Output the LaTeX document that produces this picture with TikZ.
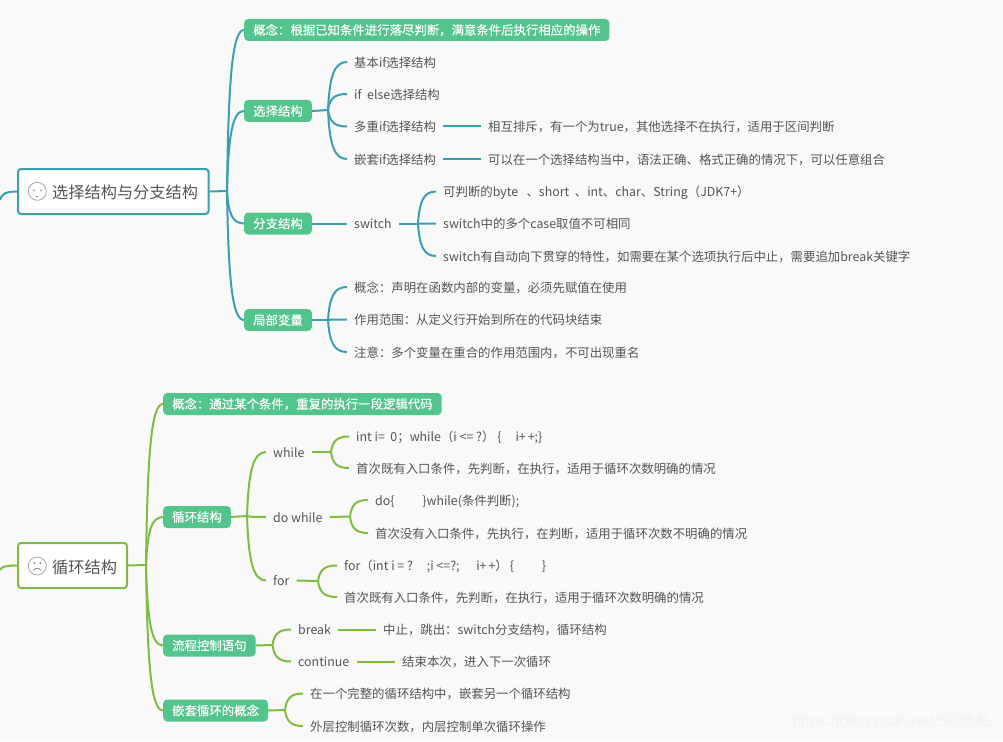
\documentclass[tikz,border=0pt]{standalone}
\usepackage{fontspec}
\setmainfont{Noto Sans CJK SC}
\newfontfamily\tagfont[FakeBold=0.25]{Noto Sans CJK SC}
\newfontfamily\markfont{Liberation Sans}
\usetikzlibrary{calc}
\definecolor{tealln}{HTML}{3BA0AE}
\definecolor{greenln}{HTML}{7FBD42}
\definecolor{tagfill}{HTML}{52C48C}
\definecolor{txtc}{HTML}{555555}
\definecolor{pagebg}{HTML}{F9F9F9}
\begin{document}
\begin{tikzpicture}[
  x=1pt, y=-1pt,
  root/.style={draw, rounded corners=3pt, line width=2pt, fill=white, minimum height=45pt, inner sep=0pt, anchor=west},
  roottxt/.style={text=txtc, font=\fontsize{16.2}{18}\selectfont, anchor=west, inner sep=0pt},
  tag/.style={fill=tagfill, rounded corners=4pt, text=white, font=\fontsize{12.4}{14}\tagfont, minimum height=22pt, inner xsep=9pt, inner ysep=0pt, anchor=west},
  leaf/.style={text=txtc, font=\fontsize{12.4}{14}\selectfont, inner xsep=7pt, inner ysep=1pt, text height=12pt, text depth=1.5pt, anchor=west},
  face/.style={draw=gray!70, circle, line width=0.8pt, minimum size=18pt, inner sep=0pt},
  lnk/.style={line width=2pt},
  tl/.style={lnk, tealln},
  gl/.style={lnk, greenln},
  curv/.style={to path={.. controls ($(\tikztostart)!0.7!($(\tikztostart |- \tikztotarget)!0.12!(\tikztotarget)$)$) and ($(\tikztostart |- \tikztotarget)!0.32!(\tikztotarget)$) .. (\tikztotarget)}}
]
\useasboundingbox[fill=pagebg] (0,0) rectangle (1003,741);
% upper map: root and first level
\node[root, draw=tealln, minimum width=190.5pt] (rootA) at (17,191.5) {};
\node[roottxt] (rootAt) at (52,192) {选择结构与分支结构};
\node[face] (faceA) at (37.3,191.3) {};
\node[tag] (concA) at (244,30) {概念：根据已知条件进行落尽判断，满意条件后执行相应的操作};
\node[tag] (sel) at (244,111) {选择结构};
\node[tag] (sw) at (244,223.5) {分支结构};
\node[tag] (var) at (244,320) {局部变量};
\coordinate (inA) at (0,200);
\coordinate (forkA) at (227,191);
% upper map: leaves
\node[leaf] (s1) at (347,62) {基本if选择结构};
\node[leaf] (s2) at (347,94) {if~~else选择结构};
\node[leaf] (s3) at (347,126.5) {多重if选择结构};
\node[leaf] (s4) at (347,159) {嵌套if选择结构};
\node[leaf] (s3a) at (481,126.5) {相互排斥，有一个为true，其他选择不在执行，适用于区间判断};
\node[leaf] (s4a) at (481,159) {可以在一个选择结构当中，语法正确、格式正确的情况下，可以任意组合};
\node[leaf] (swn) at (347,223.5) {switch};
\node[leaf] (w1) at (436,191.5) {可判断的byte~~~、short~~、int、char、String（JDK7+）};
\node[leaf] (w2) at (436,223.5) {switch中的多个case取值不可相同};
\node[leaf] (w3) at (436,256) {switch有自动向下贯穿的特性，如需要在某个选项执行后中止，需要追加break关键字};
\node[leaf] (v1) at (347,287) {概念：声明在函数内部的变量，必须先赋值在使用};
\node[leaf] (v2) at (347,319.5) {作用范围：从定义行开始到所在的代码块结束};
\node[leaf] (v3) at (347,352) {注意：多个变量在重合的作用范围内，不可出现重名};
\coordinate (forkS) at (328,110);
\coordinate (forkW) at (418,223.5);
\coordinate (forkV) at (328,320);
% upper map: links
\draw[tl] (inA) to[curv] (rootA.west);
\draw[tl] (rootA.east) -- (forkA);
\foreach \n in {concA,sel,sw,var} \draw[tl] (forkA) to[curv] (\n.west);
\draw[tl] (sel.east) -- (forkS);
\foreach \n in {s1,s2,s3,s4} \draw[tl] (forkS) to[curv] (\n.west);
\draw[tl] (s3.east) -- (s3a.west);
\draw[tl] (s4.east) -- (s4a.west);
\draw[tl] (sw.east) -- (swn.west);
\draw[tl] (swn.east) -- (forkW);
\foreach \n in {w1,w2,w3} \draw[tl] (forkW) to[curv] (\n.west);
\draw[tl] (var.east) -- (forkV);
\foreach \n in {v1,v2,v3} \draw[tl] (forkV) to[curv] (\n.west);
% lower map: root and first level
\node[root, draw=greenln, minimum width=109pt] (rootB) at (17,565.5) {};
\node[roottxt] (rootBt) at (52,567) {循环结构};
\node[face] (faceB) at (37.3,566) {};
\node[tag] (concB) at (163,404) {概念：通过某个条件，重复的执行一段逻辑代码};
\node[tag] (loop) at (163,517) {循环结构};
\node[tag] (flow) at (163,645.5) {流程控制语句};
\node[tag] (nest) at (163,710.5) {嵌套循环的概念};
\coordinate (inB) at (0,570);
\coordinate (forkB) at (146,565);
% lower map: leaves
\node[leaf] (wh) at (266,452) {while};
\node[leaf] (dw) at (266,517) {do while};
\node[leaf] (fr) at (266,580.5) {for};
\node[leaf] (wh1) at (349,436.5) {int i=~~0；while（i <= ?）\hspace{3pt}\{~~~~~i+\hspace{2pt}+;\}};
\node[leaf] (wh2) at (349,468) {首次既有入口条件，先判断，在执行，适用于循环次数明确的情况};
\node[leaf] (dw1) at (368,500) {do\{~~~~~~~~~~\}while(条件判断);};
\node[leaf] (dw2) at (368,533) {首次没有入口条件，先执行，在判断，适用于循环次数不明确的情况};
\node[leaf] (fr1) at (337,565.5) {for（int i = ?~~~~~;i <=?;~~~~~~i+\hspace{2pt}+）\hspace{2pt}\{~~~~~~~~~~\}};
\node[leaf] (fr2) at (337,597) {首次既有入口条件，先判断，在执行，适用于循环次数明确的情况};
\node[leaf] (br) at (291,629.5) {break};
\node[leaf] (ct) at (291,661.5) {continue};
\node[leaf] (br1) at (376,629.5) {中止，跳出：switch分支结构，循环结构};
\node[leaf] (ct1) at (395,661.5) {结束本次，进入下一次循环};
\node[leaf] (n1) at (303,693.5) {在一个完整的循环结构中，嵌套另一个循环结构};
\node[leaf] (n2) at (303,726) {外层控制循环次数，内层控制单次循环操作};
\coordinate (forkL) at (247,516);
\coordinate (forkH) at (331,452);
\coordinate (forkD) at (350,516.5);
\coordinate (forkR) at (318,581);
\coordinate (forkF) at (272.5,645);
\coordinate (forkN) at (285,710);
% lower map: links
\draw[gl] (inB) to[curv] (rootB.west);
\draw[gl] (rootB.east) -- (forkB);
\foreach \n in {concB,loop,flow,nest} \draw[gl] (forkB) to[curv] (\n.west);
\draw[gl] (loop.east) -- (forkL);
\foreach \n in {wh,dw,fr} \draw[gl] (forkL) to[curv] (\n.west);
\draw[gl] (wh.east) -- (forkH);
\foreach \n in {wh1,wh2} \draw[gl] (forkH) to[curv] (\n.west);
\draw[gl] (dw.east) -- (forkD);
\foreach \n in {dw1,dw2} \draw[gl] (forkD) to[curv] (\n.west);
\draw[gl] (fr.east) -- (forkR);
\foreach \n in {fr1,fr2} \draw[gl] (forkR) to[curv] (\n.west);
\draw[gl] (flow.east) -- (forkF);
\foreach \n in {br,ct} \draw[gl] (forkF) to[curv] (\n.west);
\draw[gl] (br.east) -- (br1.west);
\draw[gl] (ct.east) -- (ct1.west);
\draw[gl] (nest.east) -- (forkN);
\foreach \n in {n1,n2} \draw[gl] (forkN) to[curv] (\n.west);
% faces
\fill[gray] (34,190.5) circle (0.8pt) (41,190.5) circle (0.8pt);
\draw[gray, line width=0.7pt] (36.3,196) -- (38.3,196);
\fill[gray] (34.3,563) circle (1pt) (40.3,563) circle (1pt);
\draw[gray, line width=0.7pt] (33.3,570.5) .. controls (35.3,567.5) and (39.3,567.5) .. (41.3,570.5);
% watermark
\node[text=black!5, font=\fontsize{15.8}{17}\markfont, anchor=east, inner sep=0pt] (mark) at (993,722) {https://blog.csdn.net/S9264L};
\end{tikzpicture}
\end{document}
